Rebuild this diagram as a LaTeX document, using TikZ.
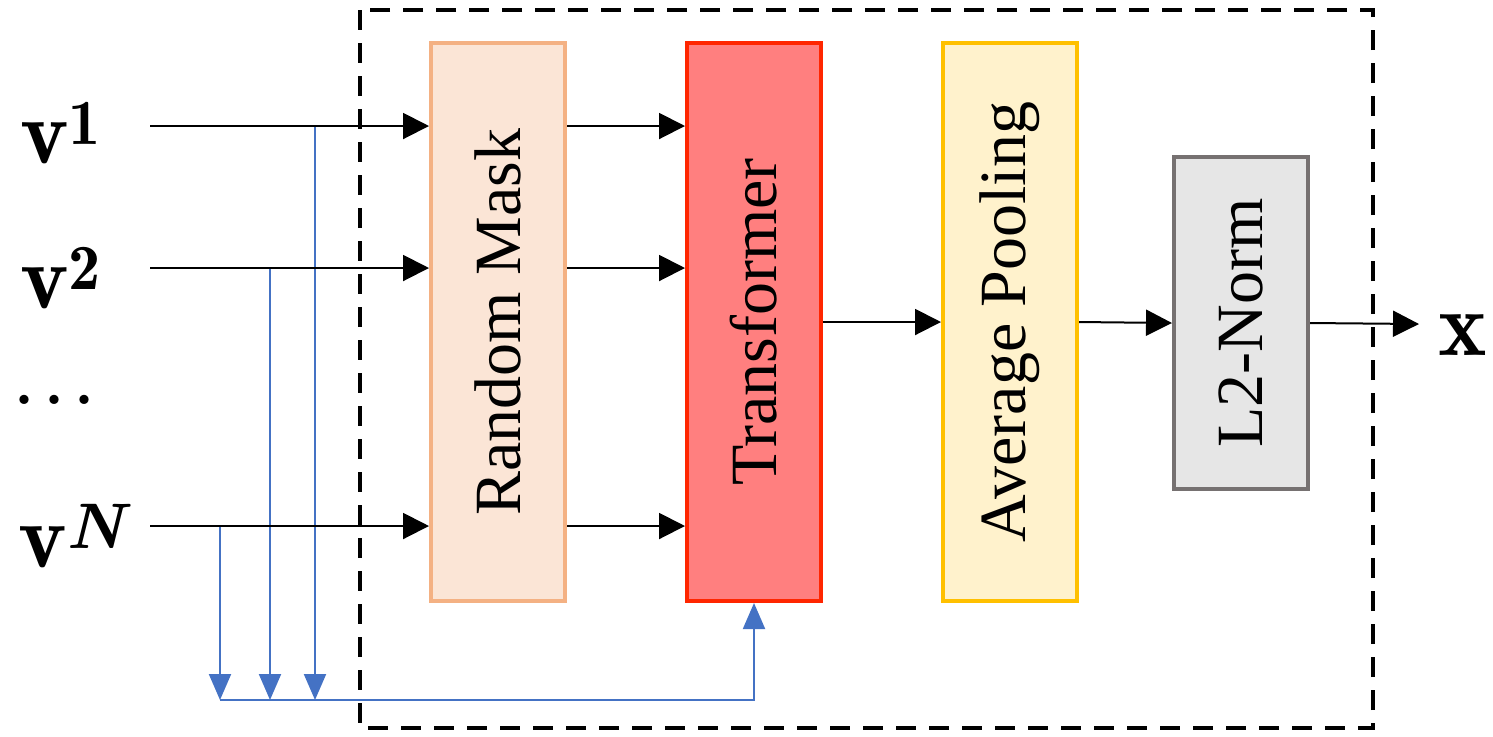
\documentclass[tikz,border=0pt]{standalone}
\usepackage{fontspec}
\usepackage{amsmath}
\newfontfamily\boxfont{Liberation Serif}
\usetikzlibrary{arrows.meta}
\definecolor{rmfill}{HTML}{FBE5D6}
\definecolor{rmdraw}{HTML}{F4B183}
\definecolor{trfill}{HTML}{FF7F7F}
\definecolor{trdraw}{HTML}{FF2600}
\definecolor{apfill}{HTML}{FFF2CC}
\definecolor{apdraw}{HTML}{FFC000}
\definecolor{lnfill}{HTML}{E6E6E6}
\definecolor{lndraw}{HTML}{767171}
\definecolor{myblue}{HTML}{4472C4}
\begin{document}
\begin{tikzpicture}[x=0.5pt,y=-0.5pt,
  box/.style={draw, line width=2pt, minimum width=67pt, minimum height=279pt, inner sep=0pt},
  boxtext/.style={rotate=90, font=\fontsize{33}{36}\selectfont\boxfont},
  arr/.style={line width=1pt, -{Triangle[length=13pt,width=13pt]}},
  barr/.style={line width=1pt, myblue, -{Triangle[length=13pt,width=11pt]}},
  vlab/.style={font=\fontsize{46}{50}\selectfont, anchor=base west, inner sep=0pt},
  frame/.style={line width=2pt, dash pattern=on 10pt off 6.5pt}
]
\useasboundingbox (0,0) rectangle (1493,736);
% frame
\draw[frame] (360,10) rectangle (1373,728);
% boxes
\node[box, fill=rmfill, draw=rmdraw, label={[boxtext]center:Random Mask}] (rm) at (498,322) {};
\node[box, fill=trfill, draw=trdraw, label={[boxtext]center:Transformer}] (tr) at (754,322) {};
\node[box, fill=apfill, draw=apdraw, label={[boxtext]center:Average Pooling}] (ap) at (1010,322) {};
\node[box, fill=lnfill, draw=lndraw, minimum height=166pt, label={[boxtext]center:L2-Norm}] (ln) at (1241,323) {};
% labels
\node[vlab] (v1) at (20,163) {$\mathbf{v}^{\mathbf{1}}$};
\node[vlab] (v2) at (20,308) {$\mathbf{v}^{\mathbf{2}}$};
\node[vlab, font=\fontsize{32}{34}\selectfont\bfseries] (vd) at (14,404) {.\kern5pt.\kern5pt.};
\node[vlab] (vN) at (18,567) {$\mathbf{v}^{\text{\bfseries\itshape N}}$};
\node[vlab] (xo) at (1438,355) {$\mathbf{x}$};
% input coordinates
\coordinate (in1) at (150,126);
\coordinate (in2) at (150,268);
\coordinate (inN) at (150,526);
\coordinate (t1) at (315,126);
\coordinate (t2) at (270,268);
\coordinate (tN) at (220,526);
\coordinate (bot1) at (315,700);
\coordinate (bot2) at (270,700);
\coordinate (botN) at (220,700);
\coordinate (out) at (1419,324);
% blue connectors
\draw[barr] (t1) -- (bot1);
\draw[barr] (t2) -- (bot2);
\draw[barr] (tN) -- (botN);
\draw[barr] (botN) -| (tr.south);
% black connectors
\draw[arr] (in1) -- (in1 -| rm.west);
\draw[arr] (in2) -- (in2 -| rm.west);
\draw[arr] (inN) -- (inN -| rm.west);
\draw[arr] (in1 -| rm.east) -- (in1 -| tr.west);
\draw[arr] (in2 -| rm.east) -- (in2 -| tr.west);
\draw[arr] (inN -| rm.east) -- (inN -| tr.west);
\draw[arr] (tr.east) -- (ap.west);
\draw[arr] (ap.east) -- (ln.west);
\draw[arr] (ln.east) -- (out);
\end{tikzpicture}
\end{document}
